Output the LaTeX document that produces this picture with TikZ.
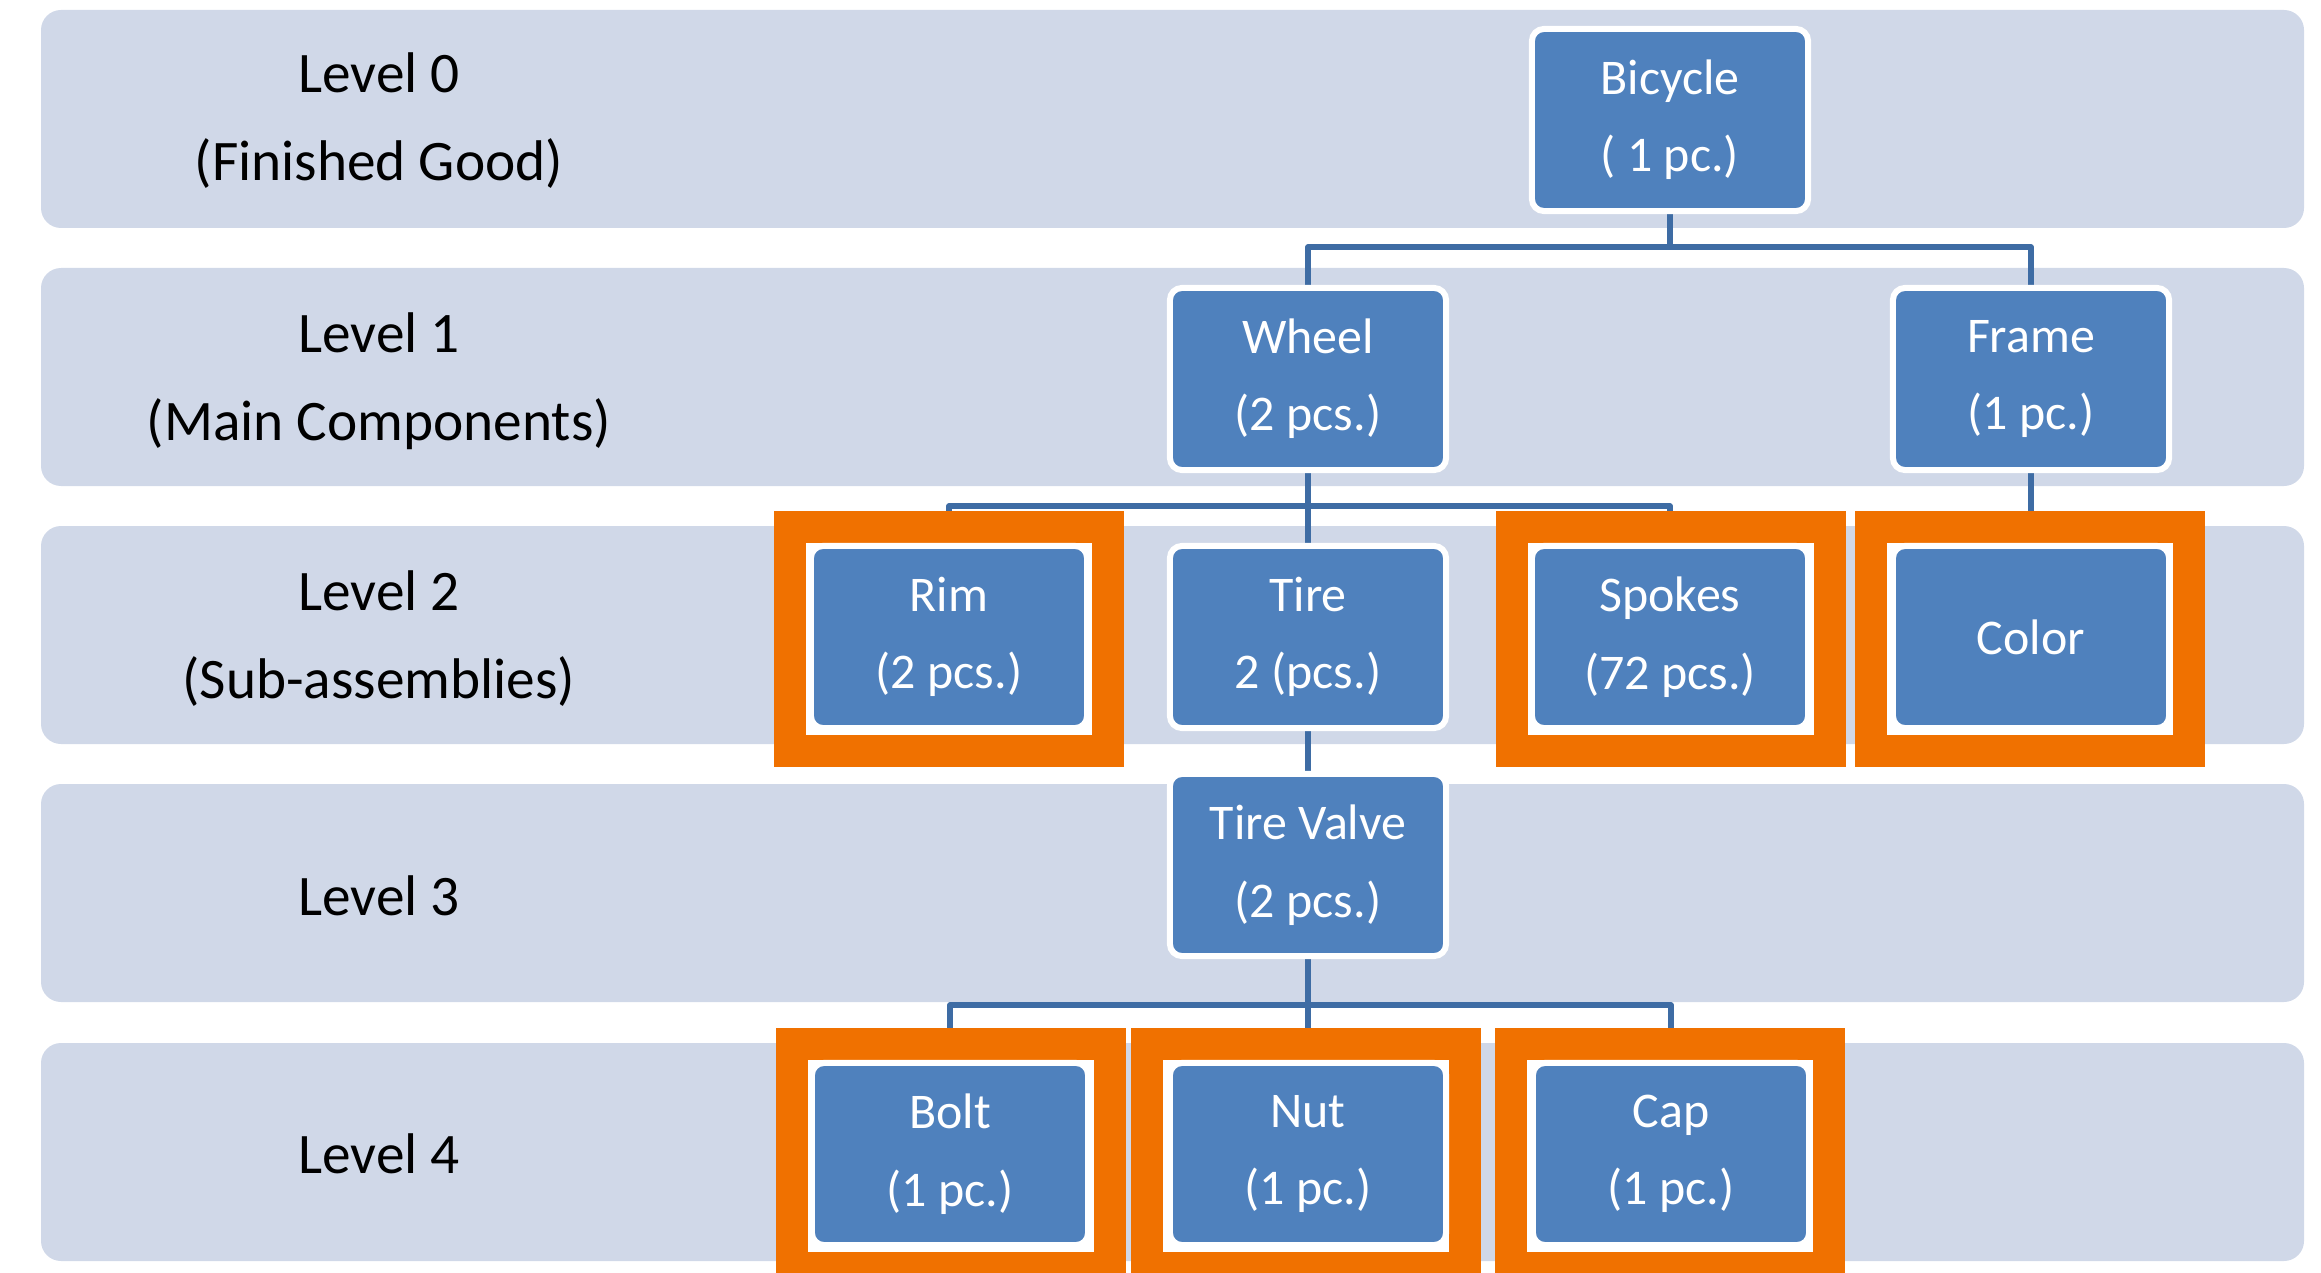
\documentclass[tikz,border=0pt]{standalone}
\usepackage{fontspec}
\setmainfont{Carlito}
\definecolor{bandfill}{RGB}{208,216,232}
\definecolor{boxblue}{RGB}{79,129,189}
\definecolor{linkblue}{RGB}{62,108,164}
\definecolor{markorange}{RGB}{240,113,0}
\pgfdeclarelayer{back}
\pgfdeclarelayer{links}
\pgfsetlayers{back,links,main}
\begin{document}
\begin{tikzpicture}[x=0.01cm,y=-0.01cm,
        band/.style={fill=bandfill,rounded corners=0.2cm},
        lvl/.style={align=center,font=\fontsize{16.3}{25}\selectfont},
        part/.style={draw=white,line width=0.06cm,fill=boxblue,rounded corners=0.12cm,text=white,align=center,
            minimum width=2.76cm,minimum height=1.82cm,font=\fontsize{14.2}{22}\selectfont},
        hilite/.style={draw=markorange,line width=0.32cm,fill=white,minimum width=3.17cm,minimum height=2.235cm,inner sep=0pt},
        link/.style={draw=linkblue,line width=0.055cm,line join=round}]
        \useasboundingbox (0,0) rectangle (2321,1273);
        \begin{pgfonlayer}{back}
        \foreach \t in {10,268,526,784,1043}
            \fill[band] (41,\t) rectangle (2304,\t+218);
        \end{pgfonlayer}
        \node[lvl] (lv0) at (379,121) {Level 0\\(Finished Good)};
        \node[lvl] (lv1) at (379,381) {Level 1\\(Main Components)};
        \node[lvl] (lv2) at (379,639) {Level 2\\(Sub-assemblies)};
        \node[lvl] (lv3) at (379,896) {Level 3};
        \node[lvl] (lv4) at (379,1154) {Level 4};
        % highlighted parts
        \foreach \x/\y in {949/639,1671/639,2030/639,951/1156,1306/1156,1670/1156}
            \node[hilite] at (\x,\y) {};
        \node[part] (bike) at (1670,120) {Bicycle\\( 1 pc.)};
        \node[part] (wheel) at (1308,379) {Wheel\\(2 pcs.)};
        \node[part] (frame) at (2031,379) {Frame\\(1 pc.)};
        \node[part] (rim) at (949,637) {Rim\\(2 pcs.)};
        \node[part] (tire) at (1308,637) {Tire\\2 (pcs.)};
        \node[part] (spokes) at (1670,637) {Spokes\\(72 pcs.)};
        \node[part] (color) at (2031,637) {Color};
        \node[part] (valve) at (1308,865) {Tire Valve\\(2 pcs.)};
        \node[part] (bolt) at (950,1154) {Bolt\\(1 pc.)};
        \node[part] (nut) at (1308,1154) {Nut\\(1 pc.)};
        \node[part] (cap) at (1671,1154) {Cap\\(1 pc.)};
        \coordinate (j0) at (1670,247);
        \coordinate (j1) at (1308,506);
        \coordinate (j3) at (1308,1005);
        \begin{pgfonlayer}{links}
        \draw[link] (bike.south) -- (j0);
        \draw[link] (wheel.north) |- (j0) -| (frame.north);
        \draw[link] (wheel.south) -- (tire.north);
        \draw[link] (rim.north) |- (j1) -| (spokes.north);
        \draw[link] (frame.south) -- (color.north);
        \draw[link] (tire.south) -- (valve.north);
        \draw[link] (valve.south) -- (j3);
        \draw[link] (bolt.north) |- (j3) -| (cap.north);
        \draw[link] (j3) -- (nut.north);
        \end{pgfonlayer}
\end{tikzpicture}
\end{document}
